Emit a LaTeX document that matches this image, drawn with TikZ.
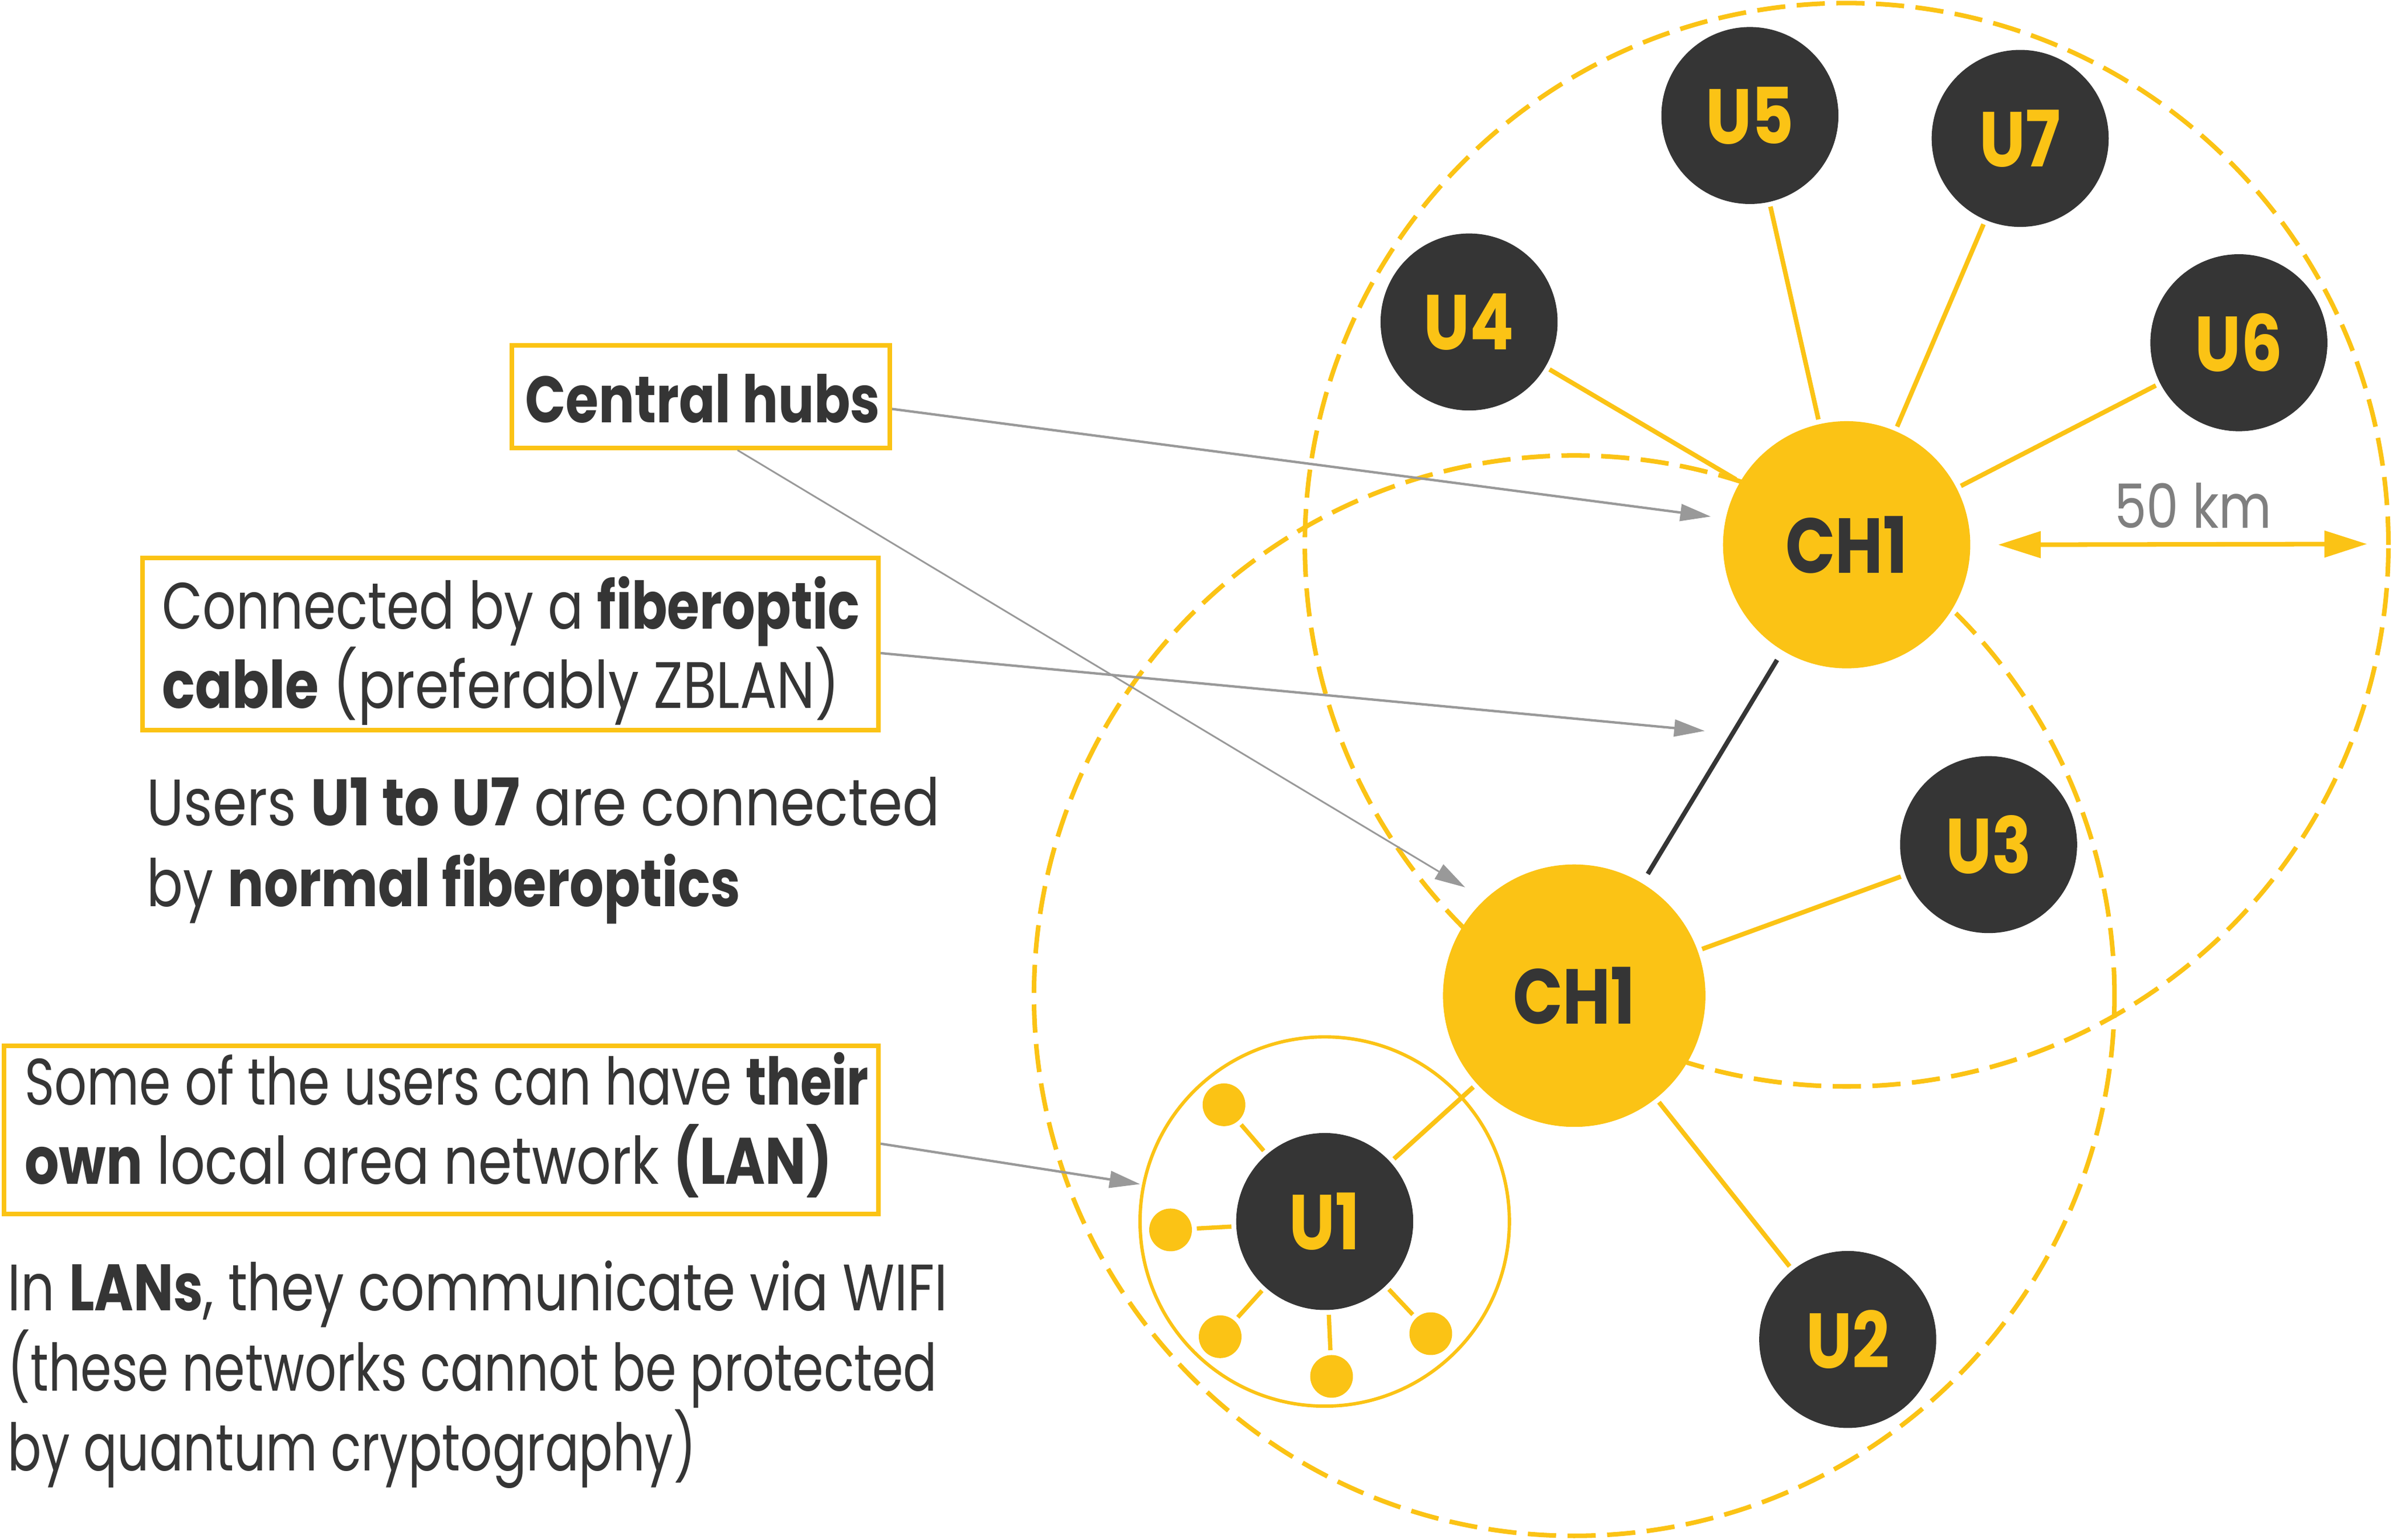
\documentclass[tikz,border=0pt]{standalone}
\usepackage{fontspec}
\setmainfont{Poppins}[FakeStretch=0.84]
\usetikzlibrary{arrows.meta}
\definecolor{gold}{HTML}{FBC315}
\definecolor{ink}{HTML}{353535}
\definecolor{pointer}{HTML}{999999}
\definecolor{kmgray}{HTML}{7F7F7F}
\newcommand{\fitx}[2]{\scalebox{#1}[1]{#2}}
\begin{document}
\begin{tikzpicture}[x=1pt,y=-1pt,
  hubnode/.style={circle,fill=gold,inner sep=0pt,text=ink,font=\fontsize{51}{51}\selectfont\bfseries},
  usernode/.style={circle,fill=ink,inner sep=0pt,minimum size=116pt,text=gold,font=\fontsize{51}{51}\selectfont\bfseries},
  landot/.style={circle,fill=gold,inner sep=0pt,minimum size=28pt},
  uedge/.style={draw=gold,line width=3pt,shorten <=3pt,shorten >=3pt},
  hubedge/.style={draw=ink,line width=3pt,shorten <=7pt,shorten >=7pt},
  lanedge/.style={draw=gold,line width=2.8pt,shorten <=3pt,shorten >=3pt},
  rangecircle/.style={draw=gold,line width=3pt,dash pattern=on 18.5pt off 7.5pt},
  infobox/.style={draw=gold,line width=3pt,inner sep=0pt},
  txt/.style={anchor=base west,inner sep=0pt,text=ink,font=\fontsize{43}{52}\selectfont},
  pointerarrow/.style={draw=pointer,line width=1.6pt,-{Triangle[length=20pt,width=11pt]}},
  kmarrow/.style={draw=gold,line width=3pt,{Triangle[length=28pt,width=17pt]}-{Triangle[length=28pt,width=17pt]}}
]
\useasboundingbox (0,0) rectangle (1568,1009);

% range circles
\draw[rangecircle] (1210,357) circle[radius=355pt];
\draw[rangecircle] (1031.5,652.5) circle[radius=354pt];

% LAN circle
\draw[draw=gold,line width=2.2pt] (868,800.5) circle[radius=121pt];

% nodes
\node[hubnode,minimum size=162pt] (CH1a) at (1210,357) {CH1};
\node[hubnode,minimum size=172pt] (CH1b) at (1031.5,652.5) {CH1};
\node[usernode] (U1) at (868,800.5) {U1};
\node[usernode] (U2) at (1210.7,877.8) {U2};
\node[usernode] (U3) at (1303,553.5) {U3};
\node[usernode] (U4) at (962.6,211) {U4};
\node[usernode] (U5) at (1146.6,75.7) {U5};
\node[usernode] (U6) at (1467,224.6) {U6};
\node[usernode] (U7) at (1323.7,90.7) {U7};

\node[landot] (d1) at (802,724) {};
\node[landot] (d2) at (767,806) {};
\node[landot] (d3) at (799.5,876) {};
\node[landot] (d4) at (872.5,902) {};
\node[landot] (d5) at (937.5,874) {};

% edges
\draw[uedge] (U4) -- (CH1a);
\draw[uedge] (U5) -- (CH1a);
\draw[uedge] (U7) -- (CH1a);
\draw[uedge] (U6) -- (CH1a);
\draw[hubedge] (CH1a) -- (CH1b);
\draw[uedge] (CH1b) -- (U3);
\draw[uedge] (CH1b) -- (U2);
\draw[uedge] (CH1b) -- (U1);
\foreach \d in {d1,d2,d3,d4,d5} \draw[lanedge] (U1) -- (\d);

% 50 km
\coordinate (kmR) at (1551,356.5);
\draw[kmarrow] ([xshift=18pt]CH1a.east) -- (kmR);
\node[anchor=base,inner sep=0pt,text=kmgray,font=\fontsize{40}{40}\selectfont] (km) at (1437,346) {50 km};

% boxes
\node[infobox,minimum width=247.5pt,minimum height=67pt] (hubbox) at (459.25,260) {};
\node[infobox,minimum width=482pt,minimum height=113pt] (fiberbox) at (334.5,422) {};
\node[infobox,minimum width=573pt,minimum height=110pt] (lanbox) at (289,740.5) {};

% texts
\node[txt] (t0) at (344,277) {\fitx{0.967}{\textbf{Central hubs}}};
\node[txt] (t1) at (106,412) {\fitx{0.952}{Connected by a \textbf{fiberoptic}}};
\node[txt] (t2) at (106,464) {\fitx{0.989}{\textbf{cable} (preferably ZBLAN)}};
\node[txt] (t3) at (96,541) {\fitx{1.0}{Users \textbf{U1 to U7} are connected}};
\node[txt] (t4) at (96,594) {\fitx{0.975}{by \textbf{normal fiberoptics}}};
\node[txt] (t5) at (16,724) {\fitx{0.923}{Some of the users can have \textbf{their}}};
\node[txt] (t6) at (16,776) {\fitx{0.983}{\textbf{own} local area network \textbf{(LAN)}}};
\node[txt] (t7) at (5,859) {\fitx{0.964}{In \textbf{LANs}, they communicate via WIFI}};
\node[txt] (t8) at (5,911.5) {\fitx{0.907}{(these networks cannot be protected}};
\node[txt] (t9) at (5,964) {\fitx{0.91}{by quantum cryptography)}};

% pointer arrows
\coordinate (p1) at (1121,338.5);
\coordinate (p2) at (960,581.5);
\coordinate (p3) at (1117,479);
\coordinate (p4) at (747,776);
\draw[pointerarrow] ([yshift=-8pt]hubbox.east) -- (p1);
\draw[pointerarrow,line width=1.1pt] ([xshift=24pt]hubbox.south) -- (p2);
\draw[pointerarrow] ([yshift=-6pt]fiberbox.east) -- (p3);
\draw[pointerarrow] ([yshift=-9pt]lanbox.east) -- (p4);
\end{tikzpicture}
\end{document}
